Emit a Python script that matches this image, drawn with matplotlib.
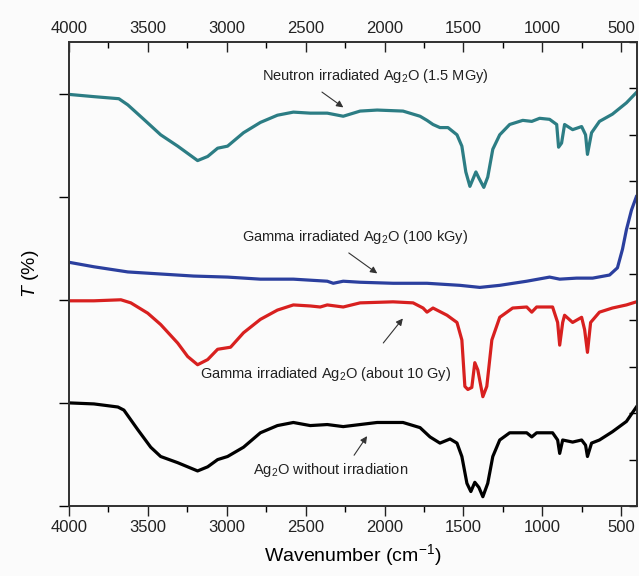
import numpy as np
import matplotlib
matplotlib.use('Agg')
import matplotlib.pyplot as plt
from matplotlib.ticker import MultipleLocator, NullFormatter

plt.rcParams['font.family'] = ['Liberation Sans', 'DejaVu Sans']
plt.rcParams['mathtext.fontset'] = 'custom'
plt.rcParams['mathtext.rm'] = 'Liberation Sans'
plt.rcParams['mathtext.it'] = 'Liberation Sans:italic'

# FTIR spectra (wavenumber in cm-1, transmittance offset for stacking)
wn_neutron = [3987, 3842, 3684, 3627, 3526, 3419, 3311, 3185, 3121, 3058, 2995, 2894,
              2787, 2679, 2578, 2471, 2363, 2262, 2155, 2047, 1883, 1775, 1731, 1693,
              1649, 1598, 1541, 1510, 1485, 1459, 1440, 1421, 1402, 1371, 1346, 1314,
              1270, 1207, 1124, 1067, 1017, 954, 909, 897, 878, 859, 808, 751, 726,
              714, 688, 638, 556, 467, 404]
t_neutron = [3.99, 3.97, 3.95, 3.89, 3.75, 3.60, 3.49, 3.35, 3.39, 3.47, 3.49, 3.62,
             3.72, 3.79, 3.82, 3.81, 3.81, 3.78, 3.83, 3.84, 3.83, 3.78, 3.74, 3.70,
             3.67, 3.67, 3.60, 3.49, 3.24, 3.10, 3.17, 3.24, 3.18, 3.09, 3.19, 3.46,
             3.60, 3.70, 3.74, 3.73, 3.76, 3.75, 3.70, 3.48, 3.52, 3.70, 3.65, 3.68,
             3.60, 3.41, 3.62, 3.73, 3.80, 3.91, 4.01]

wn_gamma_100k = [3987, 3842, 3627, 3419, 3210, 2995, 2787, 2578, 2363, 2325, 2262,
                 2155, 1946, 1731, 1522, 1396, 1270, 1099, 954, 890, 783, 681, 574,
                 524, 492, 467, 435, 404]
t_gamma_100k = [2.36, 2.32, 2.27, 2.25, 2.23, 2.22, 2.20, 2.20, 2.18, 2.16, 2.18,
                2.17, 2.16, 2.16, 2.14, 2.12, 2.14, 2.18, 2.22, 2.20, 2.21, 2.21, 2.24,
                2.31, 2.49, 2.68, 2.87, 3.00]

wn_gamma_10 = [3987, 3842, 3671, 3608, 3501, 3419, 3311, 3248, 3185, 3121, 3058, 2976,
               2894, 2787, 2679, 2578, 2471, 2408, 2363, 2262, 2155, 1946, 1819, 1756,
               1731, 1693, 1604, 1541, 1510, 1491, 1472, 1447, 1428, 1409, 1377, 1352,
               1320, 1270, 1188, 1099, 1067, 1036, 935, 903, 890, 871, 859, 808, 751,
               732, 714, 694, 638, 556, 467, 404]
t_gamma_10 = [1.99, 1.99, 2.00, 1.97, 1.87, 1.76, 1.58, 1.45, 1.37, 1.42, 1.52, 1.54,
              1.68, 1.81, 1.90, 1.95, 1.94, 1.93, 1.95, 1.93, 1.97, 1.98, 1.97, 1.92,
              1.88, 1.92, 1.85, 1.78, 1.61, 1.16, 1.13, 1.15, 1.39, 1.32, 1.06, 1.16,
              1.61, 1.83, 1.92, 1.93, 1.88, 1.93, 1.93, 1.78, 1.56, 1.78, 1.85, 1.78,
              1.83, 1.71, 1.49, 1.78, 1.88, 1.92, 1.95, 1.98]

wn_pristine = [4000, 3842, 3690, 3652, 3564, 3482, 3419, 3311, 3185, 3121, 3058, 2995,
               2894, 2787, 2679, 2578, 2471, 2363, 2262, 2155, 2047, 1883, 1775, 1712,
               1649, 1585, 1541, 1510, 1478, 1453, 1428, 1402, 1377, 1346, 1314, 1270,
               1207, 1099, 1067, 1036, 935, 903, 890, 871, 808, 751, 726, 714, 688,
               638, 556, 467, 404]
t_pristine = [1.00, 0.99, 0.96, 0.93, 0.74, 0.57, 0.48, 0.42, 0.34, 0.38, 0.45, 0.48,
              0.57, 0.71, 0.78, 0.81, 0.78, 0.79, 0.77, 0.79, 0.81, 0.81, 0.76, 0.67,
              0.61, 0.65, 0.61, 0.48, 0.22, 0.14, 0.23, 0.18, 0.09, 0.22, 0.48, 0.64,
              0.71, 0.71, 0.67, 0.71, 0.71, 0.64, 0.51, 0.64, 0.62, 0.64, 0.59, 0.48,
              0.61, 0.64, 0.72, 0.82, 0.96]

fig = plt.figure(figsize=(6.39, 5.76), dpi=100)
fig.patch.set_facecolor('#fbfbfb')
ax = fig.add_axes([69 / 639, 70 / 576, 568 / 639, 464 / 576])
ax.set_facecolor('#fbfbfb')

lw = 2.3
ax.plot(wn_neutron, t_neutron, color='#2c7d84', lw=lw, solid_joinstyle='round')
ax.plot(wn_gamma_100k, t_gamma_100k, color='#2b3f9e', lw=lw, solid_joinstyle='round')
ax.plot(wn_gamma_10, t_gamma_10, color='#d8201f', lw=lw, solid_joinstyle='round')
ax.plot(wn_pristine, t_pristine, color='black', lw=lw, solid_joinstyle='round')

ax.set_xlim(4000, 400)
ax.set_ylim(0, 4.5)

# bottom / left ticks point out
ax.xaxis.set_major_locator(MultipleLocator(500))
ax.xaxis.set_minor_locator(MultipleLocator(250))
ax.yaxis.set_major_locator(MultipleLocator(1))
ax.yaxis.set_major_formatter(NullFormatter())
ax.tick_params(axis='x', which='major', direction='out', length=7, width=1.0,
               labelsize=12, pad=3, colors='#222222')
ax.tick_params(axis='x', which='minor', direction='out', length=4, width=1.0)
ax.tick_params(axis='y', which='major', direction='out', length=7, width=1.0)

# top axis repeats the wavenumber scale, ticks pointing in
axt = ax.twiny()
axt.set_xlim(4000, 400)
axt.xaxis.set_major_locator(MultipleLocator(500))
axt.xaxis.set_minor_locator(MultipleLocator(250))
axt.tick_params(axis='x', which='major', direction='in', length=7, width=1.0,
                labelsize=12, pad=4, colors='#222222')
axt.tick_params(axis='x', which='minor', direction='in', length=4, width=1.0)

# right axis: finer unlabeled ticks, pointing in
axr = ax.twinx()
axr.set_ylim(0, 10)
axr.yaxis.set_major_locator(MultipleLocator(1))
axr.yaxis.set_major_formatter(NullFormatter())
axr.tick_params(axis='y', direction='in', length=6, width=1.0)

for a in (ax, axt, axr):
    for s in a.spines.values():
        s.set_linewidth(1.1)
        s.set_color('#333333')

ax.set_xlabel('Wavenumber (cm$^{-1}$)', fontsize=14, labelpad=5)
ax.set_ylabel('$T$ (%)', fontsize=14, labelpad=10)

arrow = dict(arrowstyle='-|>', color='#333333', lw=0.8, mutation_scale=10)
lab = dict(fontsize=10.5, ha='center', va='center', color='#222222')
ax.annotate('', xy=(2247, 3.85), xytext=(2411, 4.03), arrowprops=arrow)
ax.text(2057, 4.17, 'Neutron irradiated Ag$_2$O (1.5 MGy)', **lab)
ax.annotate('', xy=(2032, 2.24), xytext=(2241, 2.47), arrowprops=arrow)
ax.text(2190, 2.61, 'Gamma irradiated Ag$_2$O (100 kGy)', **lab)
ax.annotate('', xy=(1873, 1.84), xytext=(2019, 1.56), arrowprops=arrow)
ax.text(2373, 1.28, 'Gamma irradiated Ag$_2$O (about 10 Gy)', **lab)
ax.annotate('', xy=(2101, 0.70), xytext=(2203, 0.47), arrowprops=arrow)
ax.text(2342, 0.35, 'Ag$_2$O without irradiation', **lab)

plt.savefig('out.png', dpi=100, facecolor=fig.get_facecolor())
